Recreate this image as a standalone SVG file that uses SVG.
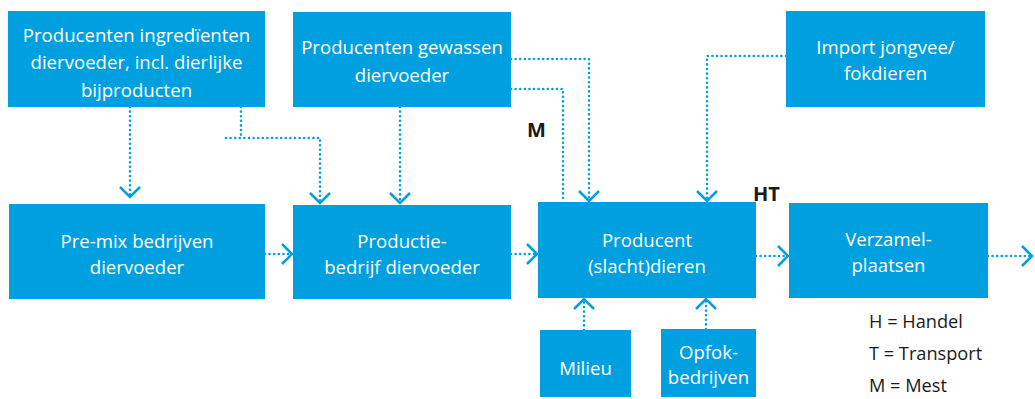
<svg xmlns="http://www.w3.org/2000/svg" width="1035" height="399" viewBox="0 0 1035 399">
<defs>
<style>
.box{fill:#009FDF;}
.t{font-family:"Open Sans","Liberation Sans",sans-serif;font-size:18.6px;fill:#ffffff;text-anchor:middle;}
.lg{font-family:"Open Sans","Liberation Sans",sans-serif;font-size:18.2px;fill:#1a1a1a;}
.b{font-family:"Open Sans","Liberation Sans",sans-serif;font-size:20px;font-weight:bold;fill:#1a1a1a;}
.c{fill:none;stroke:#009FDF;stroke-width:2.6;stroke-dasharray:0 4.6;stroke-linecap:round;}
</style>
<marker id="ah" markerUnits="userSpaceOnUse" markerWidth="24" markerHeight="24" viewBox="-12 -12 24 24" refX="0" refY="0" orient="auto">
<path d="M-10,-10 L0,0 L-10,10" fill="none" stroke="#009FDF" stroke-width="2.5" stroke-dasharray="none"/>
</marker>
</defs>
<rect width="1035" height="399" fill="#ffffff"/>
<g id="connectors">
<path class="c" d="M130,107 V197" marker-end="url(#ah)"/>
<path class="c" d="M241,107 V138"/>
<path class="c" d="M226,138 H320 V203" marker-end="url(#ah)"/>
<path class="c" d="M400,107 V203" marker-end="url(#ah)"/>
<path class="c" d="M511,59 H589 V201" marker-end="url(#ah)"/>
<path class="c" d="M511,89 H563 V202"/>
<path class="c" d="M786,56 H707 V201" marker-end="url(#ah)"/>
<path class="c" d="M265,254 H292" marker-end="url(#ah)"/>
<path class="c" d="M511,254 H537" marker-end="url(#ah)"/>
<path class="c" d="M756,256 H788" marker-end="url(#ah)"/>
<path class="c" d="M988,256 H1032" marker-end="url(#ah)"/>
<path class="c" d="M584,330 V299" marker-end="url(#ah)"/>
<path class="c" d="M706,329 V299" marker-end="url(#ah)"/>
</g>
<g id="n-ingredienten">
<rect class="box" x="8" y="11" width="257" height="96"/>
<text class="t" x="136.5" y="42">Producenten ingredïenten</text>
<text class="t" x="136.5" y="69">diervoeder, incl. dierlijke</text>
<text class="t" x="136.5" y="97">bijproducten</text>
</g>
<g id="n-gewassen">
<rect class="box" x="293" y="12" width="218" height="95"/>
<text class="t" x="402" y="54">Producenten gewassen</text>
<text class="t" x="402" y="82">diervoeder</text>
</g>
<g id="n-import">
<rect class="box" x="786" y="11" width="199" height="96"/>
<text class="t" x="885.5" y="54">Import jongvee/</text>
<text class="t" x="885.5" y="80">fokdieren</text>
</g>
<g id="n-premix">
<rect class="box" x="9" y="204" width="256" height="95"/>
<text class="t" x="137" y="248">Pre-mix bedrijven</text>
<text class="t" x="137" y="274">diervoeder</text>
</g>
<g id="n-productie">
<rect class="box" x="293" y="205" width="218" height="94"/>
<text class="t" x="402" y="248">Productie-</text>
<text class="t" x="402" y="274">bedrijf diervoeder</text>
</g>
<g id="n-producent">
<rect class="box" x="538" y="202" width="218" height="96"/>
<text class="t" x="647" y="247">Producent</text>
<text class="t" x="647" y="273">(slacht)dieren</text>
</g>
<g id="n-verzamel">
<rect class="box" x="789" y="203" width="199" height="95"/>
<text class="t" x="888.5" y="246">Verzamel-</text>
<text class="t" x="888.5" y="272">plaatsen</text>
</g>
<g id="n-milieu">
<rect class="box" x="540" y="330" width="91" height="67"/>
<text class="t" x="585.5" y="375">Milieu</text>
</g>
<g id="n-opfok">
<rect class="box" x="661" y="329" width="95" height="68"/>
<text class="t" x="708.5" y="359">Opfok-</text>
<text class="t" x="708.5" y="384">bedrijven</text>
</g>
<g id="labels">
<text class="b" x="527" y="137">M</text>
<text class="b" x="753" y="201">HT</text>
<text class="lg" x="869" y="328">H = Handel</text>
<text class="lg" x="869" y="360">T = Transport</text>
<text class="lg" x="869" y="392">M = Mest</text>
</g>
</svg>
